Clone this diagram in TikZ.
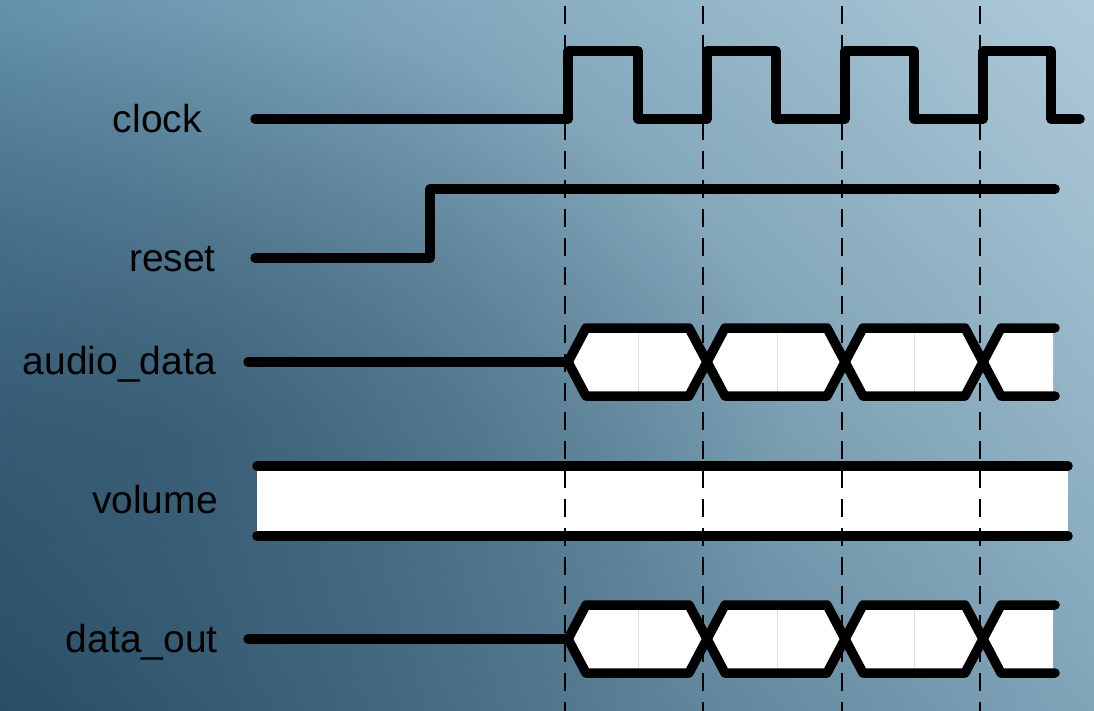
\documentclass[tikz,border=0pt]{standalone}
\usepackage{fontspec}
\setmainfont{Liberation Sans}
\usetikzlibrary{shadings,fadings}
\definecolor{bgTL}{RGB}{100,145,170}
\definecolor{bgTR}{RGB}{174,202,216}
\definecolor{bgBL}{RGB}{40,78,102}
\definecolor{bgBR}{RGB}{128,165,185}
\definecolor{bgDark}{RGB}{38,72,96}
\tikzfading[name=softspot, inner color=transparent!0, outer color=transparent!100]
\begin{document}
\begin{tikzpicture}[x=1pt,y=-1pt,
  wave/.style={line width=9.5pt,line cap=round,line join=round,black},
  faint/.style={draw=gray!25,line width=0.8pt},
  grid/.style={line width=1.8pt,black,dash pattern=on 18pt off 11pt,dash phase=-6pt},
  lbl/.style={anchor=mid east,inner sep=0pt,font=\fontsize{39}{46}\selectfont}]
\useasboundingbox (0,0) rectangle (1094,711);
\shade[upper left=bgTL, upper right=bgTR, lower left=bgBL, lower right=bgBR]
  (0,0) rectangle (1094,711);
\fill[bgDark, opacity=0.5, path fading=softspot] (160,440) ellipse (620 and 420);

% labels
\node[lbl] (lclock) at (202,130) {clock};
\node[lbl] (lreset) at (216,269) {reset};
\node[lbl] (laudio) at (216,372) {audio\_data};
\node[lbl] (lvol) at (218,511) {volume};
\node[lbl] (lout) at (218,650) {data\_out};

% volume bus
\fill[white] (257,466) rectangle (1068,536);
\draw[wave] (257,466) -- (1068,466);
\draw[wave] (257,536) -- (1068,536);

% data buses
\foreach \ym/\xs in {362/248, 639/248}{
\begin{scope}[shift={(0,\ym)}]
  \fill[white] (568,0) -- (586,-34) -- (689,-34) -- (707,0) -- (689,34) -- (586,34) -- cycle;
  \fill[white] (707,0) -- (725,-34) -- (827,-34) -- (845,0) -- (827,34) -- (725,34) -- cycle;
  \fill[white] (845,0) -- (863,-34) -- (965,-34) -- (983,0) -- (965,34) -- (863,34) -- cycle;
  \fill[white] (983,0) -- (1001,-34) -- (1053,-34) -- (1053,34) -- (1001,34) -- cycle;
  \draw[faint] (638,-30) -- (638,30);
  \draw[faint] (777,-30) -- (777,30);
  \draw[faint] (914,-30) -- (914,30);
  \draw[wave] (\xs,0) -- (568,0);
  \draw[wave] (568,0) -- (586,-34) -- (689,-34) -- (707,0) -- (689,34) -- (586,34) -- cycle;
  \draw[wave] (707,0) -- (725,-34) -- (827,-34) -- (845,0) -- (827,34) -- (725,34) -- cycle;
  \draw[wave] (845,0) -- (863,-34) -- (965,-34) -- (983,0) -- (965,34) -- (863,34) -- cycle;
  \draw[wave] (1055,-34) -- (1001,-34) -- (983,0) -- (1001,34) -- (1055,34);
\end{scope}}

% clock
\draw[wave] (255,119) -- (568,119) -- (568,51) -- (638,51) -- (638,119)
  -- (707,119) -- (707,51) -- (776,51) -- (776,119)
  -- (845,119) -- (845,51) -- (914,51) -- (914,119)
  -- (983,119) -- (983,51) -- (1051,51) -- (1051,119) -- (1080,119);

% reset
\draw[wave] (255,258) -- (430,258) -- (430,189) -- (1055,189);

% dashed time markers
\foreach \x in {565,703,842,980}{
  \draw[grid] (\x,0) -- (\x,711);
}
\end{tikzpicture}
\end{document}
